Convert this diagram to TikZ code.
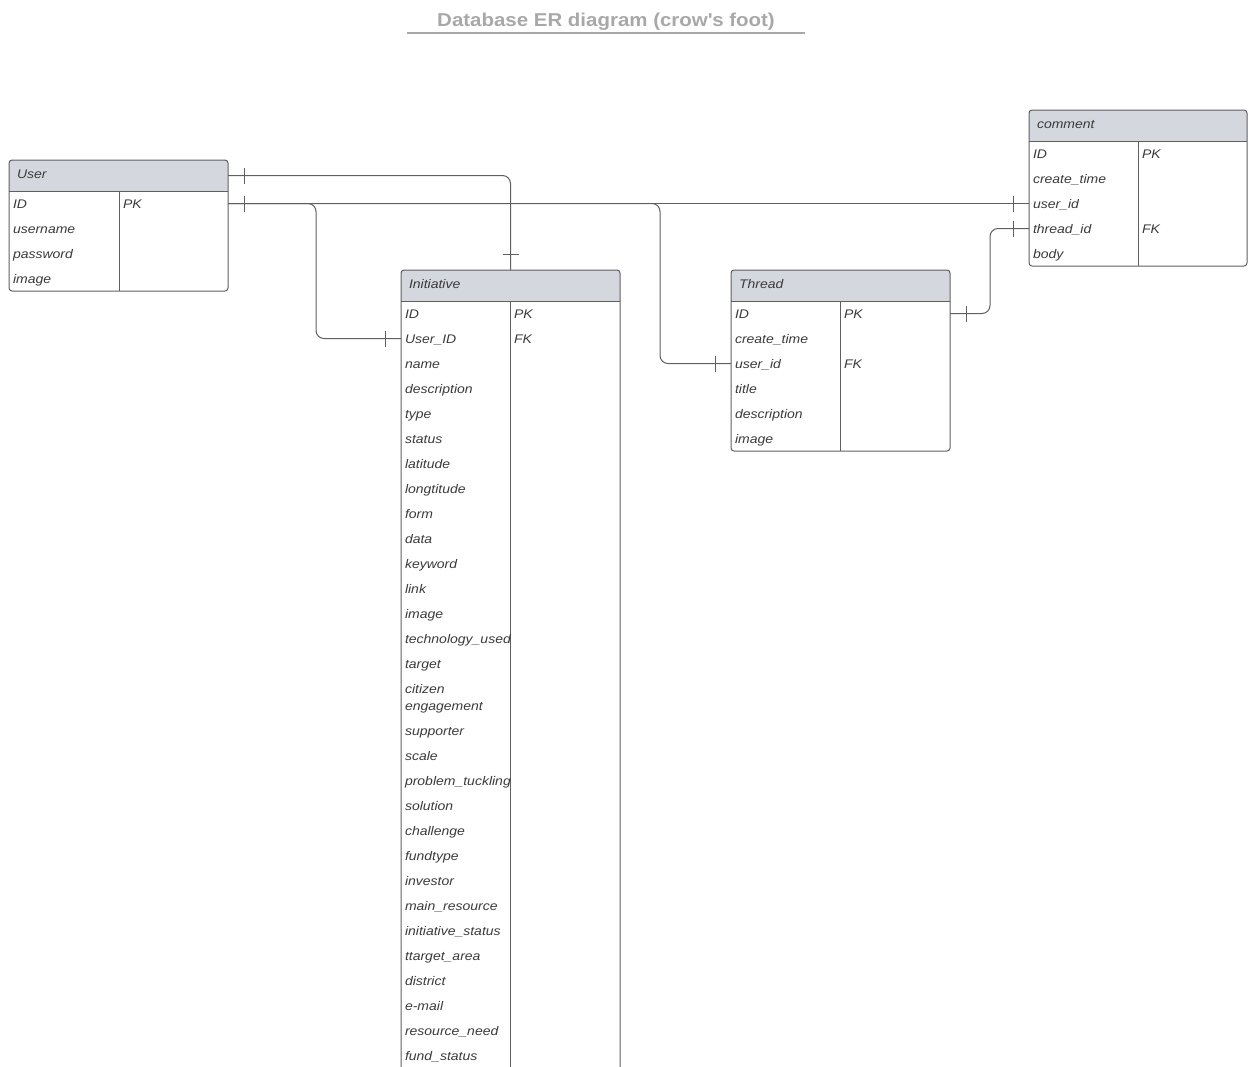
\documentclass[tikz,border=0pt]{standalone}
\usepackage{fontspec}
\setmainfont{Liberation Sans}
\newfontfamily\fieldfont[FakeStretch=1.12]{Liberation Sans}
\newfontfamily\titlefont[FakeStretch=1.1]{Liberation Sans}
\definecolor{linegray}{HTML}{5F5F5F}
\definecolor{hdrfill}{HTML}{D4D7DE}
\definecolor{txtgray}{HTML}{3A3A3A}
\definecolor{titlegray}{HTML}{A8A8A8}
\tikzset{
  border/.style={draw=linegray, line width=1pt},
  conn/.style={draw=linegray, line width=1pt},
  box/.style={draw=none, rectangle, inner sep=0pt, outer sep=0pt},
  field/.style={anchor=base west, inner sep=0pt, outer sep=0pt, text height=9pt, text depth=0pt,
    text=txtgray, font=\fieldfont\itshape\fontsize{12.5}{17}\selectfont},
  titletext/.style={anchor=base, inner sep=0pt, text=titlegray,
    font=\titlefont\bfseries\fontsize{18.6}{22}\selectfont},
}
% #1 name, #2 x, #3 y, #4 width, #5 height, #6 divider offset, #7 title
\newcommand\ertable[7]{%
  \node[box, minimum width=#4pt, minimum height=#5pt, anchor=north west] (#1) at (#2,#3) {};
  \node[box, minimum width=#4pt, minimum height=31pt, anchor=north west] (#1-h) at (#2,#3) {};
  \begin{scope}
    \clip[rounded corners=3pt] (#1.north west) rectangle (#1.south east);
    \fill[hdrfill] (#1-h.north west) rectangle (#1-h.south east);
  \end{scope}
  \draw[border, rounded corners=3pt] (#1.north west) rectangle (#1.south east);
  \draw[border] (#1-h.south west) -- (#1-h.south east);
  \draw[border] ([xshift=#6pt]#1-h.south west) -- ([xshift=#6pt]#1.south west);
  \node[field] (#1-t) at ([xshift=8pt,yshift=-18.7pt]#1.north west) {#7};
}
\begin{document}
\begin{tikzpicture}[x=1pt, y=-1pt]
\useasboundingbox (0,0) rectangle (1248,1066);
\clip (0,0) rectangle (1248,1066);

% title
\node[titletext] (title) at (606,26) {Database ER diagram (crow\textquotesingle s foot)};
\draw[titlegray, line width=2pt] ([xshift=-199pt,yshift=-7pt]title.base) -- ([xshift=199pt,yshift=-7pt]title.base);

% tables
\ertable{user}{9}{160}{219}{131}{110}{User}
\ertable{init}{401}{270}{219}{840}{109}{Initiative}
\ertable{thread}{731}{270}{219}{181}{109}{Thread}
\ertable{comment}{1029}{110}{218}{156}{109}{comment}

% User fields
\foreach \t [count=\i] in {ID,username,password,image}
  \node[field] (user-\i) at (13,{208+25*(\i-1)}) {\t};
\node[field] (user-pk) at (123,208) {PK};

% Initiative fields
\foreach \t [count=\i] in {ID,User\_ID,name,description,type,status,latitude,longtitude,form,data,keyword,link,image,technology\_used,target}
  \node[field] (init-\i) at (405,{318+25*(\i-1)}) {\t};
\node[field] (init-16) at (405,693) {\begin{tabular}[t]{@{}l@{}}citizen\\engagement\end{tabular}};
\foreach \t [count=\i from 17] in {supporter,scale,problem\_tuckling,solution,challenge,fundtype,investor,main\_resource,initiative\_status,ttarget\_area,district,e-mail,resource\_need,fund\_status}
  \node[field] (init-\i) at (405,{318+25*(\i-1)+17}) {\t};
\node[field] (init-pk) at (514,318) {PK};
\node[field] (init-fk) at (514,343) {FK};

% Thread fields
\foreach \t [count=\i] in {ID,create\_time,user\_id,title,description,image}
  \node[field] (thread-\i) at (735,{318+25*(\i-1)}) {\t};
\node[field] (thread-pk) at (844,318) {PK};
\node[field] (thread-fk) at (844,368) {FK};

% comment fields
\foreach \t [count=\i] in {ID,create\_time,user\_id,thread\_id,body}
  \node[field] (comment-\i) at (1033,{158+25*(\i-1)}) {\t};
\node[field] (comment-pk) at (1142,158) {PK};
\node[field] (comment-fk) at (1142,233) {FK};

% connectors
\draw[conn, rounded corners=8pt] (user-h.east) -| (init-h.north);
\draw[conn] (user.east |- user-1.west) -- (comment.west |- comment-3.west);
\draw[conn, rounded corners=8pt] (user.east |- user-1.west) -| ([xshift=-85pt]init.west |- init-2.west) -- (init.west |- init-2.west);
\draw[conn, rounded corners=8pt] (user.east |- user-1.west) -| ([xshift=-71pt]thread.west |- thread-3.west) -- (thread.west |- thread-3.west);
\draw[conn, rounded corners=8pt] (thread.east |- thread-1.west) -| ([xshift=-39pt]comment.west |- comment-4.west) -- (comment.west |- comment-4.west);

% one-markers
\draw[conn] ([xshift=16pt]user-h.east) ++(0,-8) -- ++(0,16);
\draw[conn] ([xshift=16pt]user.east |- user-1.west) ++(0,-8) -- ++(0,16);
\draw[conn] ([yshift=16pt]init-h.north) ++(-8,0) -- ++(16,0);
\draw[conn] ([xshift=-16pt]init.west |- init-2.west) ++(0,-8) -- ++(0,16);
\draw[conn] ([xshift=-16pt]thread.west |- thread-3.west) ++(0,-8) -- ++(0,16);
\draw[conn] ([xshift=16pt]thread.east |- thread-1.west) ++(0,-8) -- ++(0,16);
\draw[conn] ([xshift=-16pt]comment.west |- comment-3.west) ++(0,-8) -- ++(0,16);
\draw[conn] ([xshift=-16pt]comment.west |- comment-4.west) ++(0,-8) -- ++(0,16);
\end{tikzpicture}
\end{document}
